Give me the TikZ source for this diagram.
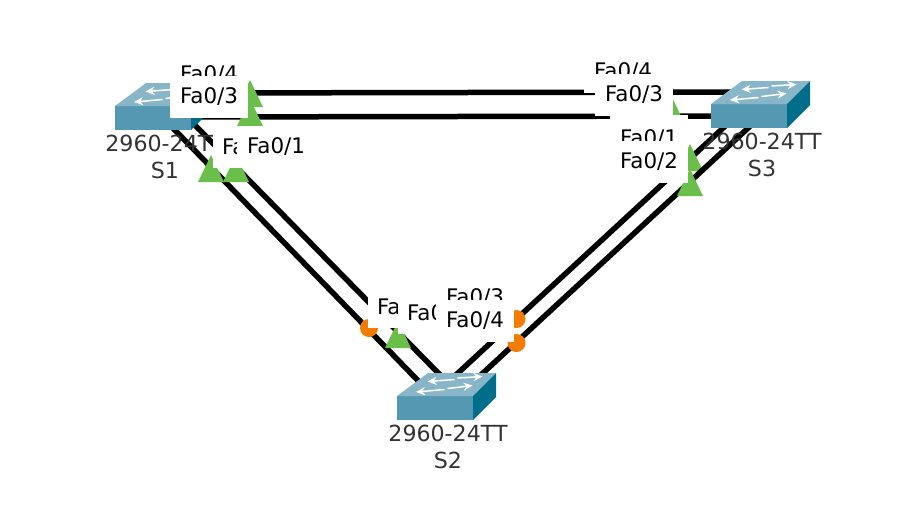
\documentclass[tikz,border=0pt]{standalone}
\usepackage{fontspec}
\setmainfont{DejaVu Sans}
\usetikzlibrary{arrows.meta, calc}
\definecolor{swfront}{HTML}{5598B1}
\definecolor{swtop}{HTML}{88B6C8}
\definecolor{swside}{HTML}{006E8A}
\definecolor{linkgreen}{HTML}{6ABF4B}
\definecolor{linkorange}{HTML}{F57C00}
\definecolor{txtgray}{HTML}{333333}
\pgfdeclarelayer{linklayer}
\pgfsetlayers{linklayer,main}
\tikzset{
  swarrow/.style={white, line width=0.3mm, -{Stealth[length=1.8mm, width=1.6mm]}},
  switchbox/.style={minimum width=1.98cm, minimum height=0.94cm, inner sep=0pt, path picture={
    \fill[swfront] (-49.5,-0.5) rectangle (26.5,23.5);
    \fill[swtop] (-49.5,-0.5) -- (-18.5,-23.5) -- (49.5,-23.5) -- (26.5,-0.5) -- cycle;
    \fill[swside] (26.5,-0.5) -- (49.5,-23.5) -- (49.5,0.5) -- (26.5,23.5) -- cycle;
    \draw[swarrow] (8,-17) -- (-19,-15);
    \draw[swarrow] (11,-18.5) -- (36,-20);
    \draw[swarrow] (-2,-7) -- (-30.5,-4.5);
    \draw[swarrow] (1,-8) -- (26,-11);
  }},
  link/.style={black, line width=1.1mm},
  upmark/.style={fill=linkgreen},
  blockmark/.style={fill=linkorange},
  portlabel/.style={fill=white, text=black, font=\fontsize{12.2}{14}\selectfont, minimum width=1.56cm, minimum height=0.84cm, inner sep=0pt},
  portcut/.style={portlabel, text width=1.2cm, align=left},
  hostlabel/.style={text=txtgray, font=\fontsize{12.6}{15.3}\selectfont, align=center, inner sep=0pt}
}

\begin{document}
\begin{tikzpicture}[x=0.2mm, y=-0.2mm]

\useasboundingbox (0,0) rectangle (908,524);

% Switches
\node[switchbox] (s1) at (164.5,106.5) {};
\node[switchbox] (s3) at (760.5,104.5) {};
\node[switchbox] (s2) at (446.5,396.5) {};

% Links and their marks go under the switches
\begin{pgfonlayer}{linklayer}
\fill[white] (0,0) rectangle (908,524);

% S1 to S3
\fill[blockmark] (665,92) circle (9);
\draw[link] ($(s1)+(26,-13.5)$) -- ($(s3)+(-25,-12.5)$);
\fill[upmark] (250,80) -- ++(-13,27) -- ++(26,0) -- cycle;
\draw[link] ($(s1)+(10,10.5)$) -- ($(s3)+(-30,11.5)$);
\fill[upmark] (250,99) -- ++(-13,27) -- ++(26,0) -- cycle;
\fill[upmark] (668,89) -- ++(-13,27) -- ++(26,0) -- cycle;

% S1 to S2
\draw[link] ($(s1)+(5.5,18.5)$) -- ($(s2)+(-16.5,-3.5)$);
\fill[upmark] (211,155) -- ++(-13,27) -- ++(26,0) -- cycle;
\fill[blockmark] (369,328) circle (9);
\draw[link] ($(s1)+(20.5,8.5)$) -- ($(s2)+(3.5,-11.5)$);
\fill[upmark] (236,155) -- ++(-13,27) -- ++(26,0) -- cycle;
\fill[upmark] (398,321) -- ++(-13,27) -- ++(26,0) -- cycle;

% S3 to S2
\draw[link] ($(s3)+(-25.5,12.5)$) -- ($(s2)+(-1.5,-11.5)$);
\fill[upmark] (690,144) -- ++(-13,27) -- ++(26,0) -- cycle;
\fill[blockmark] (516.5,319) circle (9);
\draw[link] ($(s3)+(-0.5,12.5)$) -- ($(s2)+(23.5,-11.5)$);
\fill[upmark] (690,169) -- ++(-13,27) -- ++(26,0) -- cycle;
\fill[blockmark] (516.5,343) circle (9);
\end{pgfonlayer}

% Host names
\node[hostlabel] (s1host) at (165,157) {2960-24TT\\S1};
\node[hostlabel] (s3host) at (762,155) {2960-24TT\\S3};
\node[hostlabel] (s2host) at (448,447) {2960-24TT\\S2};

% Port labels at S1
\node[portlabel] (s1fa4) at (209,75) {Fa0/4};
\node[portlabel] (s1fa3) at (209,97) {Fa0/3};
\node[portcut] (s1fa2) at (252,147) {Fa};
\node[portlabel] (s1fa1) at (276,147) {Fa0/1};

% Port labels at S3
\node[portlabel] (s3fa4) at (623,72) {Fa0/4};
\node[portlabel] (s3fa3) at (634,95) {Fa0/3};
\node[portlabel, minimum height=0.96cm] (s3fa1) at (649,139) {Fa0/1};
\node[portlabel] (s3fa2) at (649,162) {Fa0/2};

% Port labels at S2
\node[portcut] (s2fa2) at (407,307) {Fa};
\node[portcut] (s2fa1) at (437,313) {Fa0};
\node[portlabel] (s2fa3) at (475,298) {Fa0/3};
\node[portlabel] (s2fa4) at (475,321) {Fa0/4};

\end{tikzpicture}
\end{document}
